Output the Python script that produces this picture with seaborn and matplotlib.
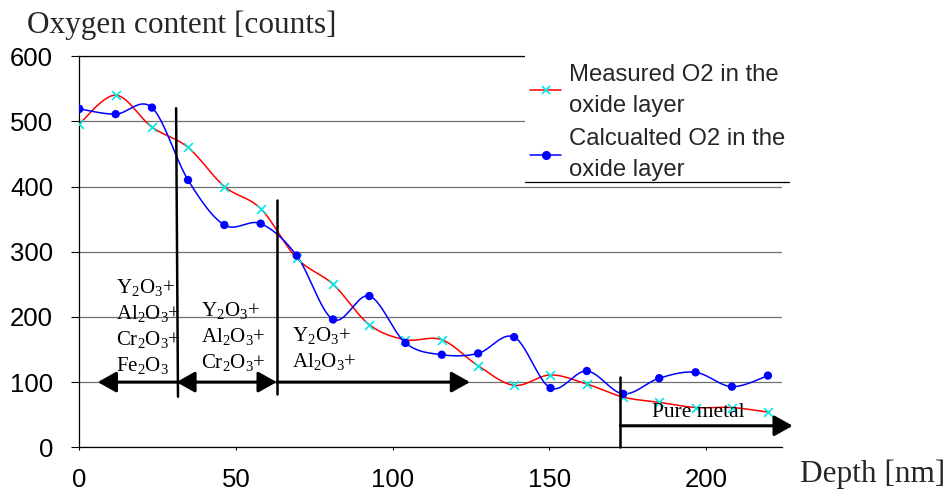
import numpy as np
import pandas as pd
import matplotlib
matplotlib.use("Agg")
import matplotlib.pyplot as plt
import seaborn as sns
from matplotlib.lines import Line2D
from matplotlib.patches import Rectangle

# ---- data ----
depth = [0, 11.6, 23.2, 34.7, 46.3, 57.9, 69.4, 81.0, 92.6, 104.1,
         115.7, 127.3, 138.8, 150.4, 162.0, 173.6, 185.1, 196.7, 208.3, 219.8]
measured = [496, 540, 491, 460, 400, 366, 290, 250, 188, 165,
            165, 125, 95, 111, 97, 77, 69, 61, 61, 54]
calculated = [519, 511, 521, 410, 341, 343, 294, 196, 232, 160,
              142, 144, 169, 91, 117, 82, 106, 115, 93, 110]
x_ticks = [0, 50, 100, 150, 200]
y_ticks = [0, 100, 200, 300, 400, 500, 600]
series_labels = ["Measured O2 in the\noxide layer", "Calcualted O2 in the\noxide layer"]
zone_labels = [r"Y$_2$O$_3$+" "\n" r"Al$_2$O$_3$+" "\n" r"Cr$_2$O$_3$+" "\n" r"Fe$_2$O$_3$",
               r"Y$_2$O$_3$+" "\n" r"Al$_2$O$_3$+" "\n" r"Cr$_2$O$_3$+",
               r"Y$_2$O$_3$+" "\n" r"Al$_2$O$_3$+",
               "Pure metal"]


def smooth(x, y, n=24):
    """Excel-like smoothed line (Catmull-Rom / Bezier)."""
    P = np.column_stack([x, y]).astype(float)
    out = []
    for i in range(len(P) - 1):
        p0 = P[i - 1] if i > 0 else P[i]
        p1, p2 = P[i], P[i + 1]
        p3 = P[i + 2] if i + 2 < len(P) else P[i + 1]
        c1 = p1 + (p2 - p0) / 6.0
        c2 = p2 - (p3 - p1) / 6.0
        t = np.linspace(0, 1, n, endpoint=(i == len(P) - 2))[:, None]
        b = ((1 - t) ** 3) * p1 + 3 * ((1 - t) ** 2) * t * c1 + 3 * (1 - t) * t ** 2 * c2 + t ** 3 * p2
        out.append(b)
    out = np.vstack(out)
    return out[:, 0], out[:, 1]


sns.set_theme(style="white")
plt.rcParams["font.family"] = ["Liberation Sans", "DejaVu Sans"]
plt.rcParams["mathtext.fontset"] = "custom"
plt.rcParams["mathtext.rm"] = "Liberation Serif"
plt.rcParams["mathtext.it"] = "Liberation Serif:italic"
plt.rcParams["mathtext.bf"] = "Liberation Serif:bold"

W, H = 949, 498
fig = plt.figure(figsize=(W / 100, H / 100), dpi=100)
ax = fig.add_axes([79.3 / W, 1 - 447.3 / H, (781.7 - 79.3) / W, (447.3 - 56.1) / H])

RED = "#ff0000"
CYAN = "#00e8e8"
BLUE = "#0000ff"

mx, my = smooth(depth, measured)
cx, cy = smooth(depth, calculated)
sns.lineplot(x=mx, y=my, color=RED, lw=1.1, sort=False, estimator=None, ax=ax, zorder=3)
sns.lineplot(x=cx, y=cy, color=BLUE, lw=1.1, sort=False, estimator=None, ax=ax, zorder=4)
sns.scatterplot(x=depth, y=measured, marker="x", color=CYAN, s=40, linewidth=1.2, ax=ax, zorder=5)
sns.scatterplot(x=depth, y=calculated, marker="o", color=BLUE, s=36, edgecolor="none", ax=ax, zorder=6)

ax.set_xlim(0, 224.2)
ax.set_ylim(0, 600)
ax.set_xticks(x_ticks)
ax.set_yticks(y_ticks)
ax.set_xticklabels([str(v) for v in x_ticks])
ax.set_yticklabels([str(v) for v in y_ticks])
ax.tick_params(axis="y", direction="out", length=8 * 0.72, width=0.8, pad=13, labelsize=18.5, colors="black", left=True)
ax.tick_params(axis="x", direction="out", length=3 * 0.72, width=0.8, pad=13, labelsize=18.5, colors="black", bottom=True)
ax.yaxis.grid(True, color="#707070", lw=0.9)
ax.xaxis.grid(False)
for s in ["left", "bottom", "top"]:
    ax.spines[s].set_color("black")
    ax.spines[s].set_linewidth(0.9)
ax.spines["right"].set_visible(False)
ax.set_xlabel("")
ax.set_ylabel("")

# divider lines
ax.plot([30.9, 31.5], [520, 77.6], color="black", lw=1.8, zorder=7)
ax.plot([63.0, 63.0], [379, 81.7], color="black", lw=1.8, zorder=7)
ax.plot([172.7, 172.7], [108, 0], color="black", lw=1.8, zorder=7, clip_on=False)

# arrows
astyle = dict(color="black", lw=2.2, shrinkA=0, shrinkB=0, mutation_scale=14)
ax.annotate("", xy=(5.9, 100), xytext=(31.5, 100),
            arrowprops=dict(arrowstyle="-|>,head_length=0.8,head_width=0.45", **astyle), zorder=8)
ax.annotate("", xy=(63.0, 100), xytext=(31.0, 100),
            arrowprops=dict(arrowstyle="<|-|>,head_length=0.8,head_width=0.45", **astyle), zorder=8)
ax.annotate("", xy=(124.7, 100), xytext=(63.0, 100),
            arrowprops=dict(arrowstyle="-|>,head_length=0.8,head_width=0.45", **astyle), zorder=8)
ax.annotate("", xy=(227.7, 33), xytext=(172.7, 33), annotation_clip=False,
            arrowprops=dict(arrowstyle="-|>,head_length=0.8,head_width=0.45", **astyle), zorder=8)

serif = ["Liberation Serif", "DejaVu Serif"]
tkw = dict(family=serif, fontsize=15, color="black", va="top", ha="left", linespacing=1.3, zorder=9)
ax.text(11.7, 261, zone_labels[0], **tkw)
ax.text(39.0, 226, zone_labels[1], **tkw)
ax.text(67.8, 188, zone_labels[2], **tkw)
ax.text(197.5, 54, zone_labels[3], family=serif, fontsize=15.5, color="black",
        va="center", ha="center", zorder=9)

# legend with white backing
fig.add_artist(Rectangle((525 / W, 1 - 182 / H), (789 - 525) / W, (182 - 47) / H,
                         transform=fig.transFigure, facecolor="white", edgecolor="none", zorder=4))
fig.add_artist(Line2D([525 / W, 789 / W], [1 - 182 / H, 1 - 182 / H],
                      transform=fig.transFigure, color="black", lw=0.9, zorder=4.5))
handles = [Line2D([], [], color=RED, lw=1.1, marker="x", markeredgecolor=CYAN, markersize=6, markeredgewidth=1.2),
           Line2D([], [], color=BLUE, lw=1.1, marker="o", markerfacecolor=BLUE, markeredgecolor=BLUE, markersize=5.5)]
leg = fig.legend(handles, series_labels, loc="upper left", bbox_to_anchor=(530 / W, 1 - 64 / H),
                 frameon=False, fontsize=17.2, handlelength=1.3, handletextpad=0.35,
                 borderpad=0, borderaxespad=0, labelspacing=0.5)
for t in leg.get_texts():
    t.set_linespacing(1.5)

# axis titles
fig.text(27 / W, 1 - 11 / H, "Oxygen content [counts]", family=serif, fontsize=22.5,
         ha="left", va="top", zorder=10,
         bbox=dict(facecolor="white", edgecolor="none", pad=1.5))
fig.text(800 / W, 1 - 474 / H, "Depth [nm]", family=serif, fontsize=22.5, ha="left", va="center")

fig.savefig("out.png", dpi=100)
